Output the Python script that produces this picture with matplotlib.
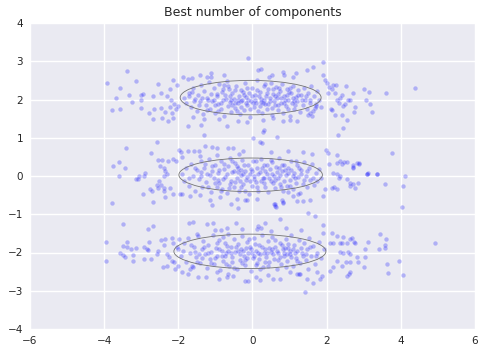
import matplotlib
matplotlib.use("Agg")
import matplotlib.pyplot as plt
from matplotlib.patches import Ellipse
import numpy as np

title = "Best number of components"
x_ticks = [-6, -4, -2, 0, 2, 4, 6]
y_ticks = [-4, -3, -2, -1, 0, 1, 2, 3, 4]

# Gaussian component summaries (centre x, centre y, width, height)
comp_x = [-0.05, -0.05, -0.07]
comp_y = [2.05, 0.03, -1.97]
comp_w = [3.80, 3.87, 4.10]
comp_h = [0.90, 0.88, 0.90]

# ---- top cluster ----
top_pts = [
(-3.93,2.43),(-3.38,2.74),(-3.14,2.48),(-3.69,2.04),(-3.57,2.30),(-3.78,1.73),(-3.56,1.75),
(-3.32,2.12),(-3.24,1.93),(-3.01,1.99),(-3.00,2.13),(-2.94,2.14),(-3.00,1.78),(-2.67,2.09),
(-2.80,1.65),(-2.66,1.75),(-2.47,1.78),(-2.54,2.40),(-2.46,2.17),(-2.67,1.49),(-2.45,1.52),
(-2.27,1.45),(-2.14,1.52),(-2.36,1.67),(-2.22,1.80),(-2.18,1.65),(-2.15,2.50),(-2.22,2.27),
(-2.04,2.38),(-2.31,2.08),(-2.21,2.00),(-2.12,1.89),(-2.06,1.75),(-2.00,1.82),(-1.87,2.60),
(-1.73,2.53),(-1.64,2.55),(-1.42,2.64),(-1.23,2.58),(-1.12,2.69),(-1.12,2.60),(-0.77,2.65),
(-0.11,3.08),(1.91,2.98),(1.64,2.85),(1.48,2.78),(1.17,2.70),(1.08,2.60),(0.83,2.73),(0.86,2.64),
(0.52,2.64),(0.45,2.60),(0.22,2.79),(0.16,2.76),(1.91,2.64),(1.96,2.50),(2.02,2.43),(2.18,2.38),
(2.24,2.38),(2.07,2.32),(2.04,2.18),(2.23,2.18),(2.14,2.27),(2.52,2.36),(2.72,2.18),(3.01,2.27),
(3.15,2.19),(3.60,2.17),(4.38,2.30),(2.41,2.11),(2.36,2.04),(2.63,2.00),(2.58,1.98),(2.50,1.89),
(2.45,1.84),(2.33,1.92),(2.27,2.00),(3.06,2.00),(3.17,1.89),(3.21,1.67),(2.76,1.80),(2.75,1.68),
(2.11,1.75),(2.14,1.73),(2.23,1.60),(2.41,1.60),(2.54,1.47),(1.71,1.82),(1.55,1.65),(1.60,1.56),
(1.51,1.60),(1.19,1.45),(1.01,1.47),(0.56,1.52),(0.29,1.47),(0.83,1.43),(-0.40,1.45),(-0.90,1.50),
(-1.30,1.48),(-1.60,1.55),(-0.15,1.42),
(-1.85,2.05),(-1.78,1.92),(-1.72,2.18),(-1.65,1.80),(-1.60,2.30),(-1.55,2.02),(-1.50,1.70),
(-1.47,2.12),(-1.42,1.95),(-1.38,2.38),(-1.33,1.62),(-1.30,2.22),(-1.26,1.85),(-1.22,2.05),
(-1.18,2.45),(-1.15,1.74),(-1.11,2.15),(-1.08,1.95),(-1.04,2.31),(-1.00,1.66),(-0.97,2.08),
(-0.93,1.88),(-0.90,2.40),(-0.86,1.76),(-0.83,2.20),(-0.80,1.98),(-0.77,1.58),(-0.74,2.12),
(-0.70,2.48),(-0.67,1.83),(-0.64,2.28),(-0.60,1.94),(-0.57,1.68),(-0.54,2.17),(-0.50,2.02),
(-0.47,1.78),(-0.44,2.36),(-0.40,1.90),(-0.37,2.10),(-0.34,1.62),(-0.30,2.25),(-0.27,1.99),
(-0.24,1.72),(-0.20,2.42),(-0.17,2.06),(-0.14,1.85),(-0.10,2.18),(-0.07,1.55),(-0.04,1.96),
(0.00,2.30),(0.03,1.80),(0.06,2.12),(0.10,1.92),(0.13,2.50),(0.16,1.70),(0.20,2.20),(0.23,2.01),
(0.26,1.64),(0.30,2.35),(0.33,1.88),(0.36,2.08),(0.40,1.76),(0.43,2.27),(0.46,1.97),(0.50,2.44),
(0.53,1.60),(0.56,2.14),(0.60,1.86),(0.63,2.32),(0.66,2.03),(0.70,1.73),(0.73,2.22),(0.76,1.92),
(0.80,2.40),(0.83,1.66),(0.86,2.10),(0.90,1.82),(0.93,2.28),(0.96,2.00),(1.00,1.58),(1.03,2.16),
(1.06,1.90),(1.10,2.36),(1.13,1.74),(1.16,2.06),(1.20,1.95),(1.24,2.25),(1.27,1.68),(1.31,2.12),
(1.35,1.86),(1.38,2.30),(1.42,2.00),(1.46,1.76),(1.50,2.18),(1.54,1.92),(1.58,2.35),(1.62,1.70),
(1.66,2.08),(1.70,1.88),(1.75,2.22),(1.80,2.00),(1.86,1.80),
(-1.20,1.98),(-0.95,2.15),(-0.85,1.90),(-0.72,2.02),(-0.62,2.10),(-0.55,1.85),(-0.48,2.25),
(-0.38,2.00),(-0.32,1.80),(-0.22,2.12),(-0.12,2.00),(-0.02,2.08),(0.08,1.98),(0.18,2.10),
(0.28,1.90),(0.38,2.18),(0.48,2.05),(0.58,1.95),(0.68,2.15),(0.78,2.05),(0.88,1.98),(0.98,2.20),
(1.08,2.05),(-1.00,1.86),(-0.30,1.95),(0.20,1.83),(0.70,1.85),(1.15,1.85),(-0.65,2.35),(0.35,2.40),
(-1.45,1.85),(1.45,2.10),(-0.15,2.30),(0.55,2.28),(-0.80,2.28),(0.95,1.75),
(-1.70,2.10),(-1.58,1.95),(-1.36,2.05),(-1.24,1.72),(-1.05,2.00),(-0.92,1.70),(-0.78,2.38),
(-0.58,2.00),(-0.42,1.70),(-0.26,2.20),(-0.08,1.75),(0.02,1.90),(0.12,2.26),(0.32,2.00),
(0.42,1.88),(0.62,2.08),(0.72,2.30),(0.84,1.90),(1.02,2.30),(1.12,1.95),(1.22,2.12),(1.34,1.98),
(1.56,2.00),(1.68,1.78),(-1.62,2.20),(-0.48,1.92),(0.22,1.94),(0.52,1.78),(0.92,2.12),(-0.18,1.90),
]

# ---- middle cluster ----
mid_pts = [
(-2.57,0.89),(-3.41,0.73),(-3.77,0.26),(-3.59,0.37),(-3.43,0.20),(-3.59,0.00),(-3.14,-0.09),
(-3.10,-0.07),(-3.05,0.00),(-2.92,0.00),(-2.90,0.07),(-2.74,0.61),(-2.54,0.43),(-2.43,0.41),
(-2.49,0.26),(-2.40,0.22),(-2.36,0.13),(-2.31,0.04),(-2.40,0.00),(-2.51,-0.14),(-2.58,-0.24),
(-2.47,-0.24),(-2.40,-0.31),(-2.54,-0.31),(-2.76,-0.35),(-2.72,-0.40),(-2.96,-0.46),(-2.67,-0.67),
(-2.40,-0.40),(-2.22,-0.31),(-2.14,-0.48),(-1.95,-0.46),(-2.36,-0.55),(-3.80,-0.70),(-2.27,0.39),
(-2.15,0.45),(-2.06,0.39),(-1.97,0.69),(-1.93,0.62),(-1.91,0.50),(-1.73,0.65),(-1.57,0.65),
(-1.44,0.65),(-1.42,0.52),(-1.28,0.78),(-1.10,0.75),(-0.97,0.73),(-0.95,0.56),(-0.65,0.72),
(-0.52,0.73),(-0.25,0.66),(-0.36,0.58),(-1.73,1.32),(-1.39,1.34),(-0.68,1.30),(-1.30,1.06),
(-1.91,-0.46),(-1.69,-0.53),(-1.42,-0.50),(-1.15,-0.64),(-1.10,-0.77),(-0.88,-0.55),(-0.59,-0.74),
(-0.43,-0.61),(-0.38,-0.83),(-0.16,-0.64),(0.32,1.19),(0.28,1.15),(0.67,1.02),(0.02,1.00),
(0.20,0.89),(0.25,0.86),(2.31,1.06),(2.45,1.26),(1.69,-1.05),(1.51,-0.96),(4.02,-0.80),
(4.05,-0.27),(4.11,0.00),(3.75,0.61),(-3.48,-1.26),(-2.81,-1.39),(-2.69,-1.31),(0.59,-0.74),
(0.63,-0.80),(0.83,-0.70),(1.19,-0.66),(3.57,-0.22),(3.08,0.06),(3.35,0.06),(2.86,0.34),
(2.70,0.22),(1.98,0.69),(2.04,0.60),(2.28,0.56),(2.36,0.40),(2.27,0.34),(2.47,0.37),(2.54,0.37),
(2.41,0.32),(2.72,0.30),(2.83,0.34),(2.88,0.32),(2.72,0.23),(3.12,0.08),(3.37,0.06),(3.08,0.04),
(2.07,0.32),(2.18,0.08),(2.27,0.04),(2.36,0.00),(2.32,-0.06),(2.54,-0.09),(2.63,-0.18),
(2.72,-0.22),(2.85,-0.18),(2.77,-0.31),(2.63,-0.27),(1.96,-0.35),(2.14,-0.31),(2.21,-0.29),
(2.27,-0.35),(1.91,-0.53),(1.55,-0.64),(1.37,-0.66),(1.24,-0.48),(1.10,-0.53),(0.83,-0.67),
(0.79,-0.64),(0.61,-0.74),(0.61,-0.79),(0.11,-0.59),(-0.20,-0.64),(1.35,0.62),(1.60,0.58),
(0.95,0.65),(0.50,0.62),
(-1.90,0.05),(-1.84,-0.12),(-1.78,0.20),(-1.70,-0.25),(-1.65,0.32),(-1.60,0.00),(-1.55,-0.38),
(-1.50,0.15),(-1.45,-0.08),(-1.40,0.40),(-1.35,-0.30),(-1.30,0.22),(-1.26,-0.15),(-1.22,0.05),
(-1.17,0.45),(-1.13,-0.42),(-1.09,0.12),(-1.05,-0.05),(-1.01,0.30),(-0.97,-0.28),(-0.93,0.08),
(-0.89,-0.18),(-0.85,0.38),(-0.81,-0.35),(-0.78,0.18),(-0.74,-0.02),(-0.70,-0.45),(-0.66,0.26),
(-0.62,0.48),(-0.58,-0.12),(-0.55,0.10),(-0.51,-0.30),(-0.47,0.35),(-0.43,-0.05),(-0.40,0.20),
(-0.36,-0.40),(-0.32,0.02),(-0.28,0.42),(-0.25,-0.22),(-0.21,0.14),(-0.17,-0.10),(-0.13,0.30),
(-0.10,-0.48),(-0.06,0.06),(-0.02,-0.25),(0.02,0.38),(0.05,0.00),(0.09,-0.15),(0.13,0.22),
(0.16,-0.38),(0.20,0.10),(0.24,0.45),(0.27,-0.05),(0.31,0.28),(0.35,-0.28),(0.38,0.04),
(0.42,-0.42),(0.46,0.18),(0.49,-0.12),(0.53,0.36),(0.57,0.00),(0.60,-0.32),(0.64,0.24),
(0.68,-0.06),(0.71,0.46),(0.75,-0.20),(0.79,0.12),(0.82,-0.40),(0.86,0.30),(0.90,0.02),
(0.93,-0.26),(0.97,0.20),(1.01,-0.10),(1.05,0.40),(1.08,-0.35),(1.12,0.08),(1.16,-0.18),
(1.20,0.28),(1.24,-0.02),(1.28,-0.44),(1.32,0.16),(1.36,-0.22),(1.40,0.36),(1.44,0.00),
(1.48,-0.30),(1.52,0.22),(1.56,-0.10),(1.60,0.32),(1.65,-0.24),(1.70,0.08),(1.75,-0.14),
(1.80,0.18),(1.86,-0.05),
(-1.15,0.02),(-0.90,0.15),(-0.80,-0.08),(-0.68,0.05),(-0.60,-0.20),(-0.50,0.12),(-0.42,0.25),
(-0.35,-0.12),(-0.25,0.05),(-0.15,-0.02),(-0.05,0.18),(0.05,-0.08),(0.15,0.05),(0.25,0.20),
(0.35,0.12),(0.45,-0.05),(0.55,-0.18),(0.65,0.10),(0.75,0.02),(0.85,-0.12),(0.95,0.08),
(1.05,0.15),(1.15,-0.06),(-1.00,-0.18),(-0.30,-0.30),(0.30,-0.18),(0.80,0.28),(1.30,0.05),
(-0.55,0.40),(0.10,0.40),(-1.40,0.10),(1.40,-0.10),(-0.20,-0.38),(0.50,0.42),(-0.85,-0.40),
(0.95,-0.42),
(-1.72,-0.05),(-1.56,0.22),(-1.38,0.00),(-1.20,-0.28),(-1.08,0.25),(-0.94,-0.10),(-0.76,0.32),
(-0.64,-0.32),(-0.46,-0.15),(-0.38,0.10),(-0.22,0.28),(-0.08,-0.12),(0.00,0.12),(0.12,-0.28),
(0.22,-0.12),(0.40,0.30),(0.52,0.06),(0.62,-0.10),(0.72,0.20),(0.88,0.15),(1.00,-0.25),
(1.10,0.00),(1.26,0.20),(1.46,0.12),(1.62,-0.05),(-1.28,0.32),(-0.30,0.15),(0.32,-0.05),
(0.78,-0.28),(1.18,0.38),
]

# ---- bottom cluster ----
bot_pts = [
(-3.95,-1.72),(-3.95,-2.22),(-3.48,-1.83),(-3.39,-1.85),(-3.39,-1.72),(-3.28,-1.90),(-3.57,-2.00),
(-3.48,-2.07),(-3.44,-2.12),(-3.23,-2.07),(-3.21,-2.22),(-3.14,-1.87),(-2.93,-1.85),(-2.85,-1.90),
(-2.78,-1.72),(-2.81,-1.93),(-2.92,-2.18),(-2.75,-2.18),(-2.54,-1.96),(-2.58,-2.05),(-2.48,-1.67),
(-2.36,-1.65),(-2.40,-1.81),(-2.15,-1.74),(-2.18,-1.61),(-1.97,-1.64),(-2.03,-1.85),(-2.42,-2.37),
(-2.30,-2.35),(-2.18,-2.22),(-2.24,-2.13),(-2.31,-2.05),(-2.09,-2.42),(-2.00,-2.35),(-2.13,-2.26),
(-1.70,-1.24),(-1.60,-1.20),(-1.22,-1.26),(-1.07,-1.24),(-1.01,-1.41),(-0.86,-1.41),(-0.70,-1.35),
(-0.44,-1.22),(-0.29,-1.38),(-1.50,-1.52),(-1.91,-2.51),(-1.73,-2.57),(-1.69,-2.44),(-1.46,-2.65),
(-1.25,-2.65),(-1.60,-2.39),(-0.97,-2.52),(-0.89,-2.70),(-0.70,-2.65),(-0.52,-2.61),(-0.65,-2.57),
(0.74,-1.12),(0.34,-1.22),(0.16,-1.32),(0.22,-1.35),(0.11,-1.39),(1.91,-1.29),(1.89,-1.48),
(2.14,-1.50),(2.27,-1.57),(2.43,-1.59),(2.63,-1.64),(2.68,-1.61),(2.74,-1.72),(2.77,-1.74),
(3.12,-1.72),(3.44,-1.52),(3.60,-1.65),(3.58,-1.81),(3.58,-1.87),(3.42,-1.90),(3.03,-1.90),
(2.41,-1.76),(2.54,-1.74),(2.09,-1.74),(2.18,-1.74),(2.36,-1.74),(4.92,-1.76),(2.36,-1.99),
(2.45,-2.00),(2.58,-1.99),(2.63,-2.05),(2.83,-2.11),(3.03,-2.13),(2.85,-2.25),(2.63,-2.25),
(2.52,-2.26),(2.27,-2.22),(2.18,-2.39),(2.09,-2.48),(2.41,-2.35),(3.01,-2.39),(2.63,-2.51),
(2.54,-2.61),(2.61,-2.57),(3.64,-2.31),(3.66,-2.54),(3.96,-2.22),(4.07,-2.59),(1.42,-3.04),
(1.62,-2.80),(1.46,-2.70),(1.82,-2.70),(1.87,-2.61),(1.75,-2.52),(1.51,-2.44),(1.26,-2.57),
(1.01,-2.52),(0.74,-2.70),(-0.20,-2.74),(-0.11,-2.74),(0.09,-2.65),(0.20,-2.71),(0.43,-2.59),
(0.55,-2.70),(1.19,-2.57),(1.28,-2.57),(0.90,-1.35),(1.30,-1.40),(0.50,-1.45),
(-2.00,-1.92),(-1.92,-2.10),(-1.86,-1.75),(-1.80,-2.25),(-1.74,-1.62),(-1.68,-2.00),(-1.62,-2.35),
(-1.57,-1.85),(-1.52,-2.12),(-1.47,-1.58),(-1.42,-2.28),(-1.37,-1.92),(-1.33,-1.70),(-1.28,-2.05),
(-1.24,-2.40),(-1.19,-1.80),(-1.15,-2.18),(-1.11,-1.98),(-1.07,-1.55),(-1.03,-2.30),(-0.99,-1.88),
(-0.95,-2.08),(-0.91,-1.68),(-0.87,-2.45),(-0.83,-1.95),(-0.79,-2.22),(-0.75,-1.75),(-0.71,-2.02),
(-0.67,-1.52),(-0.63,-2.35),(-0.59,-1.85),(-0.55,-2.12),(-0.51,-1.65),(-0.47,-1.98),(-0.43,-2.42),
(-0.39,-1.78),(-0.35,-2.20),(-0.31,-1.92),(-0.27,-1.58),(-0.23,-2.08),(-0.19,-2.32),(-0.15,-1.72),
(-0.11,-2.00),(-0.07,-1.85),(-0.03,-2.48),(0.01,-2.15),(0.05,-1.62),(0.09,-1.95),(0.13,-2.28),
(0.17,-1.80),(0.21,-2.05),(0.25,-1.55),(0.29,-2.38),(0.33,-1.90),(0.37,-2.12),(0.41,-1.70),
(0.45,-2.25),(0.49,-1.98),(0.53,-1.60),(0.57,-2.18),(0.61,-1.85),(0.65,-2.42),(0.69,-2.02),
(0.73,-1.75),(0.77,-2.30),(0.81,-1.92),(0.85,-2.10),(0.89,-1.65),(0.93,-2.22),(0.97,-1.88),
(1.01,-2.05),(1.05,-1.55),(1.09,-2.35),(1.13,-1.80),(1.17,-2.15),(1.21,-1.95),(1.25,-1.68),
(1.29,-2.28),(1.33,-2.02),(1.38,-1.75),(1.43,-2.20),(1.48,-1.90),(1.53,-1.62),(1.58,-2.10),
(1.63,-1.82),(1.68,-2.30),(1.74,-2.00),(1.80,-1.72),(1.86,-2.15),(1.93,-1.90),
(-1.20,-2.00),(-1.00,-2.15),(-0.90,-1.90),(-0.75,-2.08),(-0.65,-1.95),(-0.55,-2.25),(-0.45,-1.85),
(-0.35,-2.05),(-0.25,-1.95),(-0.15,-2.15),(-0.05,-1.92),(0.05,-2.08),(0.15,-2.00),(0.25,-1.85),
(0.35,-2.25),(0.45,-1.88),(0.55,-2.05),(0.65,-1.95),(0.75,-2.12),(0.85,-2.00),(0.95,-1.78),
(1.05,-2.12),(1.15,-2.00),(-0.80,-1.60),(-0.10,-1.65),(0.60,-1.68),(-0.50,-2.40),(0.20,-2.42),
(0.90,-2.38),(1.30,-1.88),(-1.35,-2.15),(-1.55,-1.98),(1.45,-2.05),(-0.20,-2.20),(0.40,-2.00),
(1.00,-1.95),
(-1.88,-1.95),(-1.66,-1.80),(-1.44,-2.05),(-1.30,-1.85),(-1.12,-2.28),(-0.96,-1.75),(-0.82,-2.10),
(-0.68,-1.82),(-0.58,-2.02),(-0.40,-1.95),(-0.28,-2.28),(-0.18,-1.88),(-0.02,-2.02),(0.08,-1.78),
(0.18,-2.18),(0.30,-2.02),(0.42,-2.35),(0.52,-1.92),(0.68,-2.20),(0.80,-1.80),(0.92,-2.05),
(1.10,-1.90),(1.20,-2.22),(1.36,-2.10),(1.55,-1.85),(1.70,-2.10),(-1.50,-2.25),(-0.72,-2.30),
(0.10,-2.32),(0.88,-1.88),
]

fig = plt.figure(figsize=(4.85, 3.53), dpi=100)
ax = fig.add_axes([30/485, 24/353, 445/485, 306/353])
ax.set_facecolor("#EAEAF2")
for s in ax.spines.values():
    s.set_visible(False)
ax.grid(True, color="white", linewidth=1.0)
ax.set_axisbelow(True)

for pts in (top_pts, mid_pts, bot_pts):
    arr = np.array(pts)
    ax.scatter(arr[:, 0], arr[:, 1], s=10, color="blue", alpha=0.25,
               linewidths=0, zorder=2)

for cx, cy, w, h in zip(comp_x, comp_y, comp_w, comp_h):
    ax.add_patch(Ellipse((cx, cy), w, h, fill=False, edgecolor="0.45",
                         linewidth=0.6, zorder=3))

ax.set_xlim(-6, 6)
ax.set_ylim(-4, 4)
ax.set_xticks(x_ticks)
ax.set_yticks(y_ticks)
ax.tick_params(length=0, labelsize=7.5, colors="#262626", pad=5)
ax.set_title(title, fontsize=9, color="#262626", pad=5)

fig.savefig("out.png", dpi=100)
